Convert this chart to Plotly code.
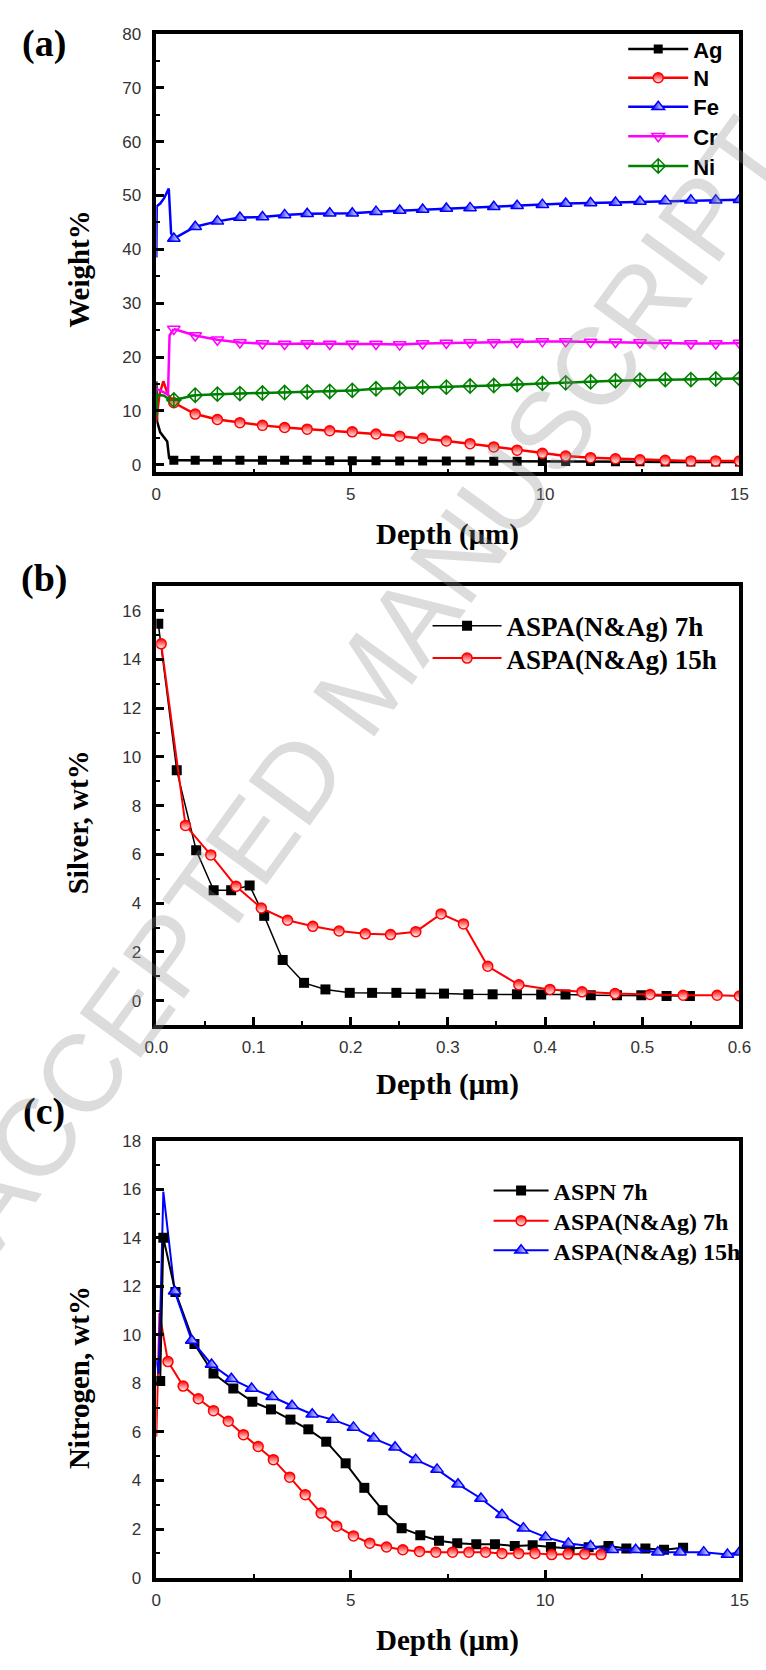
import plotly.graph_objects as go

W, H = 766, 1670

# ---------------- Panel (a): Weight% vs depth ----------------
a_x = [0.45, 1.0, 1.57, 2.15, 2.73, 3.3, 3.88, 4.46, 5.04, 5.65, 6.26, 6.85, 7.46,
       8.07, 8.68, 9.28, 9.93, 10.53, 11.17, 11.81, 12.44, 13.09, 13.75, 14.39, 15.0]
a_ag = [0.8, 0.8, 0.8, 0.8, 0.8, 0.8, 0.8, 0.75, 0.75, 0.75, 0.7, 0.7, 0.7,
        0.7, 0.65, 0.65, 0.6, 0.6, 0.6, 0.55, 0.55, 0.5, 0.5, 0.5, 0.5]
a_n = [11.5, 9.4, 8.4, 7.8, 7.3, 6.9, 6.6, 6.3, 6.1, 5.7, 5.3, 4.9, 4.4,
       3.9, 3.3, 2.7, 2.1, 1.6, 1.3, 1.1, 0.9, 0.8, 0.7, 0.7, 0.7]
a_fe = [42.0, 44.2, 45.2, 45.9, 46.0, 46.4, 46.6, 46.7, 46.7, 47.0, 47.2, 47.4, 47.6,
        47.7, 47.9, 48.1, 48.3, 48.5, 48.6, 48.7, 48.9, 49.0, 49.1, 49.1, 49.2]
a_cr = [25.2, 24.0, 23.2, 22.7, 22.5, 22.4, 22.5, 22.4, 22.4, 22.4, 22.3, 22.5, 22.6,
        22.7, 22.7, 22.8, 22.9, 22.9, 22.8, 22.8, 22.7, 22.6, 22.5, 22.5, 22.6]
a_ni = [12.0, 12.9, 13.1, 13.2, 13.3, 13.4, 13.5, 13.6, 13.8, 14.1, 14.2, 14.4, 14.4,
        14.6, 14.7, 14.9, 15.1, 15.2, 15.4, 15.6, 15.7, 15.8, 15.8, 15.9, 16.0]
# near-surface profiles (no symbols)
a_ag_sx = [0, 0.02, 0.1, 0.2, 0.28, 0.33, 0.45]
a_ag_sy = [15.5, 8.0, 6.0, 5.0, 4.3, 1.2, 0.8]
a_n_sx = [0, 0.08, 0.18, 0.3, 0.45]
a_n_sy = [8.1, 13.0, 15.5, 13.0, 11.5]
a_fe_sx = [0, 0.01, 0.1, 0.2, 0.32, 0.38, 0.45]
a_fe_sy = [38.5, 48.0, 48.5, 49.5, 51.3, 43.0, 42.0]
a_cr_sx = [0, 0.1, 0.3, 0.34, 0.45]
a_cr_sy = [14.0, 13.8, 13.0, 24.0, 25.2]
a_ni_sx = [0, 0.03, 0.2, 0.35, 0.45]
a_ni_sy = [8.8, 13.0, 12.8, 12.0, 12.0]

# ---------------- Panel (b): Silver wt% ----------------
b_7h_x = [0.002, 0.021, 0.041, 0.059, 0.077, 0.096, 0.111, 0.130, 0.152, 0.174, 0.199,
          0.222, 0.247, 0.272, 0.296, 0.321, 0.346, 0.371, 0.396, 0.421, 0.447, 0.474,
          0.499, 0.525, 0.549]
b_7h_y = [15.47, 9.45, 6.17, 4.53, 4.53, 4.72, 3.48, 1.67, 0.73, 0.46, 0.32,
          0.32, 0.32, 0.29, 0.29, 0.26, 0.26, 0.26, 0.25, 0.25, 0.22, 0.22,
          0.22, 0.19, 0.19]
b_15h_x = [0.005, 0.030, 0.056, 0.082, 0.108, 0.135, 0.161, 0.188, 0.215, 0.241, 0.267,
           0.293, 0.316, 0.341, 0.373, 0.405, 0.438, 0.472, 0.508, 0.542, 0.577, 0.6]
b_15h_y = [14.64, 7.19, 5.98, 4.69, 3.80, 3.30, 3.05, 2.86, 2.74, 2.71, 2.83,
           3.56, 3.15, 1.41, 0.65, 0.46, 0.36, 0.29, 0.25, 0.22, 0.22, 0.19]

# ---------------- Panel (c): Nitrogen wt% ----------------
c_aspn_x = [0.1, 0.18, 0.49, 0.98, 1.47, 1.98, 2.47, 2.95, 3.45, 3.91, 4.37, 4.87, 5.35,
            5.82, 6.31, 6.79, 7.27, 7.74, 8.23, 8.71, 9.22, 9.68, 10.15, 10.63, 11.12,
            11.63, 12.09, 12.58, 13.06, 13.55]
c_aspn_y = [8.1, 14.0, 11.77, 9.62, 8.41, 7.79, 7.25, 6.93, 6.51, 6.11, 5.60, 4.71, 3.70,
            2.78, 2.04, 1.75, 1.52, 1.42, 1.38, 1.38, 1.30, 1.33, 1.26, 1.20, 1.25,
            1.30, 1.20, 1.20, 1.15, 1.23]
c_ag7_sx = [0, 0.08, 0.3]
c_ag7_sy = [5.8, 10.9, 8.9]
c_ag7_x = [0.3, 0.69, 1.08, 1.47, 1.85, 2.24, 2.62, 3.01, 3.43, 3.83, 4.24, 4.64, 5.07,
           5.49, 5.92, 6.34, 6.77, 7.19, 7.62, 8.04, 8.47, 8.89, 9.32, 9.74, 10.17,
           10.59, 11.02, 11.44]
c_ag7_y = [8.9, 7.89, 7.37, 6.88, 6.44, 5.89, 5.40, 4.86, 4.14, 3.42, 2.66, 2.12, 1.72,
           1.42, 1.26, 1.15, 1.08, 1.05, 1.05, 1.05, 1.05, 1.0, 1.0, 1.0, 0.95,
           0.97, 0.97, 0.95]
c_ag15_sx = [0, 0.06, 0.12, 0.18, 0.47]
c_ag15_sy = [9.0, 8.4, 12.0, 15.9, 11.8]
c_ag15_x = [0.47, 0.91, 1.42, 1.93, 2.45, 2.98, 3.49, 4.01, 4.54, 5.07, 5.59, 6.14, 6.67,
            7.22, 7.76, 8.35, 8.89, 9.44, 10.01, 10.6, 11.17, 11.73, 12.33, 12.9, 13.47,
            14.08, 14.69, 15.0]
c_ag15_y = [11.8, 9.77, 8.78, 8.19, 7.79, 7.45, 7.08, 6.73, 6.51, 6.19, 5.74, 5.37, 4.86,
            4.46, 3.85, 3.26, 2.59, 2.04, 1.67, 1.41, 1.30, 1.15, 1.15, 1.05, 1.05,
            1.05, 0.95, 1.05]

BLACK, RED, BLUE, MAG, GREEN = "#000000", "#ff0000", "#0000ff", "#ff00ff", "#008000"

fig = go.Figure()


def surf(x, y, color, width, xa, ya):
    fig.add_trace(go.Scatter(x=x, y=y, mode="lines", line=dict(color=color, width=width),
                             showlegend=False, hoverinfo="skip", xaxis=xa, yaxis=ya))


def main(x, y, name, color, width, marker, xa, ya, leg):
    fig.add_trace(go.Scatter(x=x, y=y, name=name, mode="lines+markers",
                             line=dict(color=color, width=width), marker=marker,
                             xaxis=xa, yaxis=ya, legend=leg))


def half(sym, color, size, gtype):
    return dict(symbol=sym, size=size, color=color,
                gradient=dict(type=gtype, color="white"),
                line=dict(color=color, width=1.5))


# panel (a)
surf(a_ag_sx, a_ag_sy, BLACK, 2.5, "x", "y")
surf(a_n_sx, a_n_sy, RED, 2.5, "x", "y")
surf(a_fe_sx, a_fe_sy, BLUE, 2.5, "x", "y")
surf(a_cr_sx, a_cr_sy, MAG, 2.5, "x", "y")
surf(a_ni_sx, a_ni_sy, GREEN, 2.5, "x", "y")
main(a_x, a_ag, "Ag", BLACK, 2.5, dict(symbol="square", size=9, color=BLACK), "x", "y", "legend")
main(a_x, a_n, "N", RED, 2.5, half("circle", RED, 10, "vertical"), "x", "y", "legend2")
main(a_x, a_fe, "Fe", BLUE, 2.5, half("triangle-up", BLUE, 11, "horizontal"), "x", "y", "legend3")
main(a_x, a_cr, "Cr", MAG, 2.5, dict(symbol="triangle-down-open", size=11, color=MAG,
                                      line=dict(color=MAG, width=1.5)), "x", "y", "legend4")
main(a_x, a_ni, "Ni", GREEN, 2.5, dict(symbol="diamond-cross-open", size=11, color=GREEN,
                                        line=dict(color=GREEN, width=1.5)), "x", "y", "legend5")

# panel (b)
main(b_7h_x, b_7h_y, "ASPA(N&Ag) 7h", BLACK, 1.5, dict(symbol="square", size=10, color=BLACK),
     "x2", "y2", "legend6")
main(b_15h_x, b_15h_y, "ASPA(N&Ag) 15h", RED, 2, half("circle", RED, 10, "vertical"),
     "x2", "y2", "legend7")

# panel (c)
surf(c_ag7_sx, c_ag7_sy, RED, 2, "x3", "y3")
surf(c_ag15_sx, c_ag15_sy, BLUE, 2, "x3", "y3")
main(c_aspn_x, c_aspn_y, "ASPN 7h", BLACK, 2, dict(symbol="square", size=10, color=BLACK),
     "x3", "y3", "legend8")
main(c_ag7_x, c_ag7_y, "ASPA(N&Ag) 7h", RED, 2, half("circle", RED, 10, "vertical"),
     "x3", "y3", "legend9")
main(c_ag15_x, c_ag15_y, "ASPA(N&Ag) 15h", BLUE, 2, half("triangle-up", BLUE, 11, "horizontal"),
     "x3", "y3", "legend10")

XD = [149 / W, 751 / W]


def ydom(top, bottom):
    return [1 - bottom / H, 1 - top / H]


tickfont = dict(family="Liberation Sans, Arial", size=17, color="#333333")
common = dict(showline=True, linewidth=3.5, linecolor="black", mirror=True,
              ticks="inside", ticklen=8, tickwidth=2.5, tickcolor="black",
              showgrid=False, zeroline=False, tickfont=tickfont)

fig.update_layout(
    width=W, height=H, margin=dict(l=0, r=0, t=0, b=0),
    paper_bgcolor="white", plot_bgcolor="white",
    xaxis=dict(domain=XD, anchor="y", range=[0, 15], tick0=0, dtick=5,
               minor=dict(ticks="inside", ticklen=4, tickwidth=2, dtick=2.5, tickcolor="black"),
               ticklabelstandoff=3, **common),
    yaxis=dict(domain=ydom(25.3, 468.7), anchor="x", range=[-1.43, 80], tick0=0, dtick=10,
               minor=dict(ticks="inside", ticklen=4, tickwidth=2, dtick=5, tickcolor="black"),
               ticklabelstandoff=8, **common),
    xaxis2=dict(domain=XD, anchor="y2", range=[0, 0.6], tick0=0, dtick=0.1, tickformat=".1f",
                minor=dict(ticks="inside", ticklen=4, tickwidth=2, dtick=0.05, tickcolor="black"),
                ticklabelstandoff=4, **common),
    yaxis2=dict(domain=ydom(584, 1027.7), anchor="x2", range=[-1, 17], tick0=0, dtick=2,
                minor=dict(ticks="inside", ticklen=4, tickwidth=2, dtick=1, tickcolor="black"),
                ticklabelstandoff=8, **common),
    xaxis3=dict(domain=XD, anchor="y3", range=[0, 15], tick0=0, dtick=5,
                minor=dict(ticks="inside", ticklen=4, tickwidth=2, dtick=2.5, tickcolor="black"),
                ticklabelstandoff=4, **common),
    yaxis3=dict(domain=ydom(1144.7, 1586.7), anchor="x3", range=[0, 18], tick0=0, dtick=2,
                minor=dict(ticks="inside", ticklen=4, tickwidth=2, dtick=1, tickcolor="black"),
                ticklabelstandoff=8, **common),
)


# legends: one per entry for exact placement
def leg(x_px, y_px, fam, size, iw):
    return dict(x=x_px / W, y=1 - y_px / H, xanchor="left", yanchor="middle",
                bgcolor="rgba(0,0,0,0)", borderwidth=0, itemwidth=iw,
                font=dict(family=fam, size=size, color="black", weight="bold"))


SANS = "Liberation Sans, Arial"
SERIF = "Liberation Serif, Times New Roman"
a_leg_y = [40.6, 69.7, 99, 129, 159]
names_a = ["legend", "legend2", "legend3", "legend4", "legend5"]
lay = {}
for nm, yy in zip(names_a, a_leg_y):
    lay[nm] = leg(631, yy, SANS, 22, 60)
for nm, yy in zip(["legend6", "legend7"], [624.4, 657]):
    lay[nm] = leg(429, yy, SERIF, 27, 69)
for nm, yy in zip(["legend8", "legend9", "legend10"], [1195.6, 1226, 1256]):
    lay[nm] = leg(492, yy, SERIF, 24, 55)
fig.update_layout(**lay)

annots = []
title_font = dict(family=SERIF, size=29, color="black", weight="bold")
for txt, ycen in [("Weight%", 263), ("Silver, wt%", 822.8), ("Nitrogen, wt%", 1384)]:
    annots.append(dict(text=txt, x=69 / W, y=1 - ycen / H, xref="paper", yref="paper",
                       showarrow=False, textangle=-90, font=title_font,
                       xanchor="center", yanchor="middle"))
for ycen in [532, 1088, 1650]:
    annots.append(dict(text="Depth (\u03bcm)", x=450 / W, y=1 - ycen / H, xref="paper",
                       yref="paper", showarrow=False, font=title_font,
                       xanchor="center", yanchor="middle"))
for txt, ycen in [("(a)", 35), ("(b)", 576), ("(c)", 1115)]:
    annots.append(dict(text=txt, x=33 / W, y=1 - ycen / H, xref="paper", yref="paper",
                       showarrow=False, font=dict(family=SERIF, size=38, color="black", weight="bold"),
                       xanchor="center", yanchor="middle"))
# watermark
annots.append(dict(text="ACCEPTED MANUSCRIPT", x=366 / W, y=1 - 680 / H, xref="paper",
                   yref="paper", showarrow=False, textangle=-54,
                   font=dict(family=SANS, size=110, color="rgba(140,140,140,0.3)"),
                   xanchor="center", yanchor="middle"))
fig.update_layout(annotations=annots)

fig.write_html("out.html")
